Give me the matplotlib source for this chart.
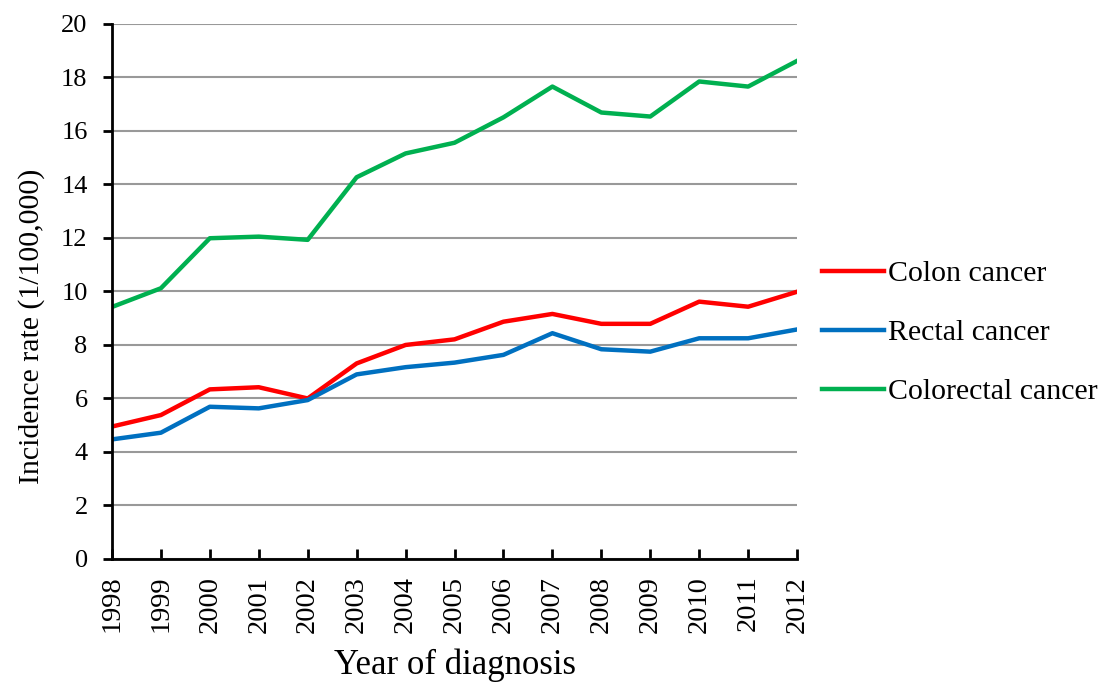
import matplotlib
matplotlib.use("Agg")
import matplotlib.pyplot as plt

years = list(range(1998, 2013))
colon = [4.95, 5.38, 6.34, 6.42, 6.00, 7.31, 8.00, 8.21, 8.87, 9.16, 8.79, 8.79, 9.62, 9.43, 9.99]
rectal = [4.47, 4.72, 5.69, 5.63, 5.94, 6.90, 7.17, 7.34, 7.63, 8.44, 7.84, 7.75, 8.25, 8.25, 8.58]
colorectal = [9.42, 10.12, 11.99, 12.05, 11.93, 14.27, 15.16, 15.56, 16.51, 17.66, 16.69, 16.54, 17.85, 17.66, 18.62]
series_names = ["Colon cancer", "Rectal cancer", "Colorectal cancer"]
colors = ["#FF0000", "#0070C0", "#00B050"]

plt.rcParams['font.family'] = ['Liberation Serif', 'DejaVu Serif']

fig = plt.figure(figsize=(11.04, 6.83), dpi=100)
ax = fig.add_axes([0.1014, 0.1816, 0.6206, 0.7833])

for vals, name, c in zip([colon, rectal, colorectal], series_names, colors):
    ax.plot(years, vals, color=c, lw=3.2, label=name, solid_joinstyle='round')

ax.set_xlim(1998, 2012)
ax.set_ylim(0, 20)
ax.set_yticks(range(0, 21, 2))
ax.set_xticks(years)
ax.set_xticklabels([str(y) for y in years], rotation=90)
ax.grid(axis='y', color='#999999', lw=1.5)
ax.set_axisbelow(True)
for s in ['top', 'right']:
    ax.spines[s].set_visible(False)
for s in ['left', 'bottom']:
    ax.spines[s].set_linewidth(2)
    ax.spines[s].set_color('black')
ax.tick_params(axis='x', direction='in', length=7, width=2, labelsize=20.5, pad=12)
ax.tick_params(axis='y', direction='out', length=6.5, width=2, labelsize=19, pad=11)
ax.set_ylabel("Incidence rate (1/100,000)", fontsize=21.5)
ax.yaxis.set_label_coords(-0.098, 0.434)
ax.set_xlabel("Year of diagnosis", fontsize=25, labelpad=11)

leg = ax.legend(loc='center left', bbox_to_anchor=(1.019, 0.423), frameon=False,
                fontsize=21.5, handlelength=2.07, handletextpad=0.15, labelspacing=1.08,
                borderaxespad=0)

fig.savefig("out.png", dpi=100)
